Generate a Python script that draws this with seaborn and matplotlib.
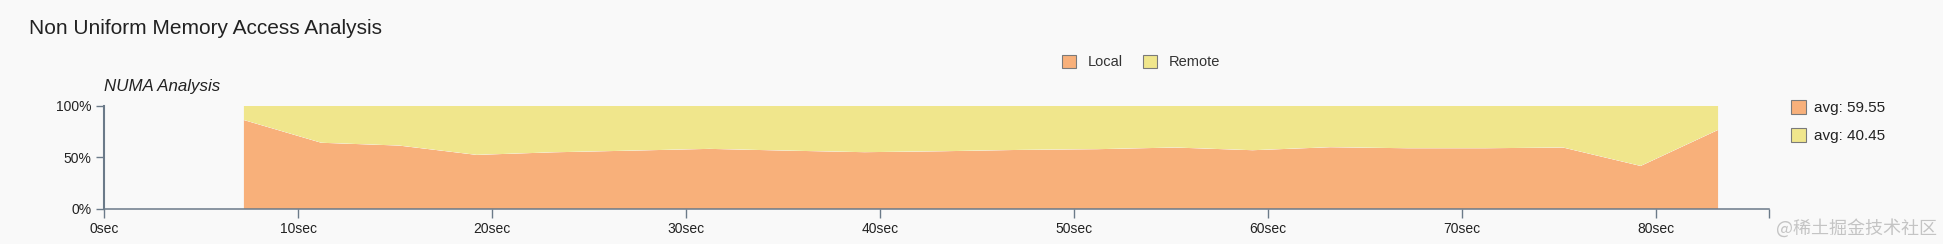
import numpy as np
import pandas as pd
import matplotlib
matplotlib.use("Agg")
import matplotlib.pyplot as plt
from matplotlib.patches import Patch
import seaborn as sns
import seaborn.objects as so

# ---------------- data ----------------
time_sec = [7.2, 11.2, 15.2, 19.2, 23.2, 27.2, 31.2, 35.2, 39.2, 43.2,
            47.2, 51.2, 55.2, 59.2, 63.2, 67.2, 71.2, 75.2, 79.2, 83.2]
local_pct = [86.0, 64.0, 61.3, 52.3, 54.8, 56.4, 58.1, 56.4, 54.9, 55.8,
             57.1, 57.8, 59.4, 56.8, 59.7, 58.7, 58.7, 59.4, 41.6, 76.5]
remote_pct = [100 - v for v in local_pct]
series_names = ["Local", "Remote"]
avg_labels = ["avg: 59.55", "avg: 40.45"]
x_ticks = [0, 10, 20, 30, 40, 50, 60, 70, 80]
x_tick_labels = [f"{v}sec" for v in x_ticks]
y_ticks = [0, 50, 100]
y_tick_labels = ["0%", "50%", "100%"]
x_end = 85.8

# ---------------- style ----------------
BG = "#f9f9f9"
ORANGE = "#f8b07a"
YELLOW = "#f0e68c"
AXIS = "#6b7a89"
TEXT = "#222222"

sns.set_theme(style="white")
plt.rcParams["font.family"] = ["Liberation Sans", "DejaVu Sans"]

W, H = 1943, 244
fig = plt.figure(figsize=(W / 100, H / 100), dpi=100, facecolor=BG)
ax = fig.add_axes([104 / W, 35 / H, 1664.7 / W, 103.5 / H])
ax.set_facecolor(BG)

df = pd.DataFrame({
    "t": time_sec * 2,
    "pct": local_pct + remote_pct,
    "kind": [series_names[0]] * len(time_sec) + [series_names[1]] * len(time_sec),
})

(
    so.Plot(df, x="t", y="pct", color="kind")
    .add(so.Area(alpha=1, edgewidth=0), so.Stack(), legend=False)
    .scale(color={series_names[0]: ORANGE, series_names[1]: YELLOW})
    .on(ax)
    .plot()
)

ax.set_xlim(0, x_end)
ax.set_ylim(0, 100)
ax.set_xlabel("")
ax.set_ylabel("")
ax.grid(False)
for s in ["top", "right"]:
    ax.spines[s].set_visible(False)
ax.spines["left"].set_color(AXIS)
ax.spines["left"].set_linewidth(1.5)
ax.spines["bottom"].set_color(AXIS)
ax.spines["bottom"].set_linewidth(1.1)
ax.spines["left"].set_zorder(5)
ax.spines["bottom"].set_zorder(5)

ax.set_xticks(x_ticks)
ax.set_xticklabels(x_tick_labels)
ax.set_xticks([x_end], minor=True)
ax.set_yticks(y_ticks)
ax.set_yticklabels(y_tick_labels)
ax.tick_params(axis="x", which="both", direction="out", length=6.5, width=1.0,
               color=AXIS, labelsize=10, labelcolor=TEXT, pad=3, bottom=True)
ax.tick_params(axis="y", direction="out", length=5.8, width=1.0,
               color=AXIS, labelsize=10, labelcolor=TEXT, pad=3, left=True)

# titles
fig.text(29 / W, 1 - 34 / H, "Non Uniform Memory Access Analysis",
         fontsize=15, color=TEXT, ha="left", va="baseline")
fig.text(104 / W, 1 - 90.5 / H, "NUMA Analysis", fontsize=12.2,
         style="italic", color=TEXT, ha="left", va="baseline")

# top legend
handles = [Patch(facecolor=ORANGE, edgecolor="#7a7a7a", linewidth=0.8),
           Patch(facecolor=YELLOW, edgecolor="#7a7a7a", linewidth=0.8)]
leg1 = fig.legend(handles, series_names, loc="upper left",
                  bbox_to_anchor=(1062 / W, 1 - 55 / H), ncol=2, frameon=False,
                  fontsize=10.5, handlelength=0.95, handleheight=0.95,
                  handletextpad=0.8, columnspacing=1.4, borderpad=0,
                  borderaxespad=0, labelcolor="#333333")

# right legend
handles2 = [Patch(facecolor=ORANGE, edgecolor="#7a7a7a", linewidth=0.8),
            Patch(facecolor=YELLOW, edgecolor="#7a7a7a", linewidth=0.8)]
leg2 = fig.legend(handles2, avg_labels, loc="upper left",
                  bbox_to_anchor=(1791 / W, 1 - 100 / H), ncol=1, frameon=False,
                  fontsize=11, handlelength=1.0, handleheight=1.0,
                  handletextpad=0.5, labelspacing=0.85, borderpad=0,
                  borderaxespad=0, labelcolor=TEXT)

# watermark
fig.text(1776 / W, 1 - 228 / H, "@稀土掘金技术社区", fontsize=13,
         family=["Noto Sans CJK SC", "DejaVu Sans"], color="#c4c4c4",
         ha="left", va="center")

fig.savefig("out.png", dpi=100, facecolor=BG)
